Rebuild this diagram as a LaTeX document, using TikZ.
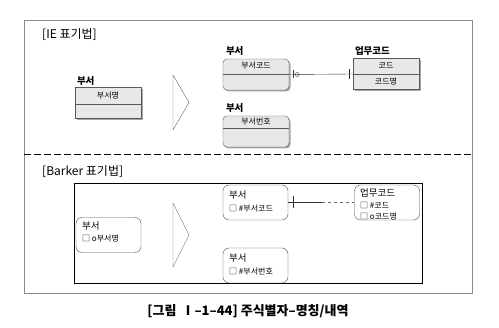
\documentclass[tikz,border=0pt]{standalone}
\usepackage{fontspec}
\setmainfont{Noto Sans CJK KR}
\usetikzlibrary{positioning,shadows}
\begin{document}
\begin{tikzpicture}[x=1pt,y=-1pt,
  ent/.style={draw=black!65,fill=black!9,minimum width=66pt,minimum height=31pt,inner sep=0pt,
    drop shadow={shadow xshift=1.5pt,shadow yshift=-1.5pt,fill=black!35,opacity=1}},
  rent/.style={ent,rounded corners=4pt},
  bent/.style={draw=black!70,fill=white,rounded corners=6pt,minimum width=65pt,minimum height=35pt,inner sep=0pt},
  lab/.style={font=\fontsize{9.5}{10}\selectfont\bfseries,inner sep=0pt,anchor=south west},
  att/.style={font=\fontsize{8}{9}\selectfont,inner sep=0pt},
  btxt/.style={font=\fontsize{8}{9}\selectfont,inner sep=0pt,anchor=west},
  bhead/.style={font=\fontsize{9.5}{10}\selectfont,inner sep=0pt,anchor=west},
  title/.style={font=\fontsize{12}{14}\selectfont,inner sep=0pt,anchor=west},
  chev/.style={draw=black!60,line join=miter}]
\useasboundingbox (0,0) rectangle (499,328);
\draw[black!45,line width=0.8pt] (24,20) rectangle (472,293);
\draw[line width=1pt,dash pattern=on 7pt off 3pt] (24,155) -- (472,155);

\node[title] (ietitle) at (42,35) {[IE 표기법]};
\node[ent] (iedept) at (108,103) {};
\draw[black!65] ([yshift=-1pt]iedept.west) -- ([yshift=-1pt]iedept.east);
\node[lab] at ([xshift=2pt,yshift=2pt]iedept.north west) {부서};
\node[att] (iedeptname) at (108,96) {부서명};
\draw[chev] (173,75) -- (189,102.5) -- (173,130) -- cycle;

\node[rent] (iedeptcode) at (256,74.5) {};
\draw[black!65] (iedeptcode.west) -- (iedeptcode.east);
\node[lab] at ([xshift=3pt,yshift=3pt]iedeptcode.north west) {부서};
\node[att] at (256,66) {부서코드};
\node[ent] (iecode) at (386,74) {};
\draw[black!65] (iecode.west) -- (iecode.east);
\node[lab] at ([xshift=2pt,yshift=3pt]iecode.north west) {업무코드};
\node[att] at (386,66) {코드};
\node[att] at (386,82) {코드명};
\node[rent] (iedeptno) at (256,131.5) {};
\draw[black!65] ([yshift=3pt]iedeptno.west) -- ([yshift=3pt]iedeptno.east);
\node[lab] at ([xshift=3pt,yshift=3pt]iedeptno.north west) {부서};
\node[att] at (256,122) {부서번호};

\draw[black!80] (iedeptcode.east) -- (iecode.west);
\draw[black!80] ([xshift=4pt]iedeptcode.east) ++(0,-4) -- ++(0,8);
\draw[black!80] ([xshift=8pt]iedeptcode.east) circle (2pt);
\draw[black!80] ([xshift=-4pt]iecode.west) ++(0,-5) -- ++(0,10);

\node[title] (bktitle) at (42,172) {[Barker 표기법]};
\draw[line width=0.8pt] (74,183) rectangle (422,283);
\node[bent] (bkdept) at (108.5,235) {};
\node[bhead] at (82,226) {부서};
\node[btxt] at (82,239) {□ o부서명};
\draw[chev] (173,203) -- (189,235) -- (173,267) -- cycle;

\node[bent] (bkdeptcode) at (255.5,202.5) {};
\node[bhead] at (229,195) {부서};
\node[btxt] at (229,208.5) {□ \#부서코드};
\node[bent] (bkcode) at (387,202.5) {};
\node[bhead] at (360,193) {업무코드};
\node[btxt] at (360,205) {□ \#코드};
\node[btxt] at (360,216) {□ o코드명};
\node[bent] (bkdeptno) at (255.5,265.5) {};
\node[bhead] at (229,258) {부서};
\node[btxt] at (229,272) {□ \#부서번호};

\coordinate (bkmid) at (322,202.5);
\draw[black!80] (bkdeptcode.east) -- (bkmid);
\draw[black!60,dashed] (bkmid) -- (bkcode.west);
\draw[black!80] ([xshift=5pt]bkdeptcode.east) ++(0,-6) -- ++(0,12);

\node[font=\fontsize{13}{15}\selectfont\bfseries] (caption) at (248,311) {[그림 \,Ⅰ–1–44] 주식별자–명칭/내역};
\end{tikzpicture}
\end{document}
